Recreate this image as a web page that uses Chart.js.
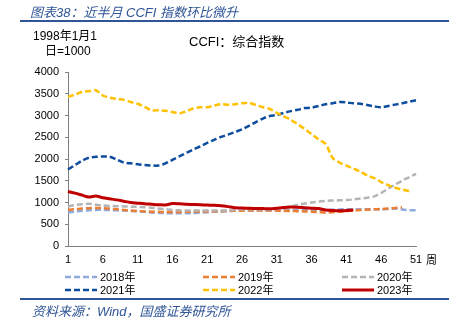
<!DOCTYPE html>
<html>
<head>
<meta charset="utf-8">
<script src="https://cdn.jsdelivr.net/npm/chart.js@4/dist/chart.umd.min.js"></script>
<style>
  body { margin: 0; background: #fff; }
  #wrap { position: relative; width: 449px; height: 330px; overflow: hidden;
    font-family: "Liberation Sans", "Noto Sans CJK SC", sans-serif; }
  #chart { position: absolute; left: 0; top: 0; }
  .txt { position: absolute; white-space: nowrap; }
  .blue { color: #2f5597; font-style: italic; font-size: 13px; }
  .rule { position: absolute; left: 20px; right: 0; height: 2px; background: #2f5597; }
</style>
</head>
<body>
<div id="wrap">
  <canvas id="chart" width="449" height="330"></canvas>
  <div class="txt blue" style="left:30px; top:2px;">图表38：近半月 CCFI 指数环比微升</div>
  <div class="rule" style="top:20px;"></div>
  <div class="txt" style="left:33px; top:26px; font-size:12px;">1998年1月1</div>
  <div class="txt" style="left:45px; top:41px; font-size:12px;">日=1000</div>
  <div class="txt" style="left:189px; top:31px; font-size:13px;">CCFI：综合指数</div>
  <div class="txt" style="left:426px; top:251px; font-size:11px;">周</div>
  <div class="rule" style="top:298px;"></div>
  <div class="txt blue" style="left:32px; top:301px;">资料来源：Wind，国盛证券研究所</div>
</div>
<script>
// CCFI weekly composite index, by year

const weeks = [];
for (let i = 1; i <= 51; i++) weeks.push(String(i));

const years = ["2018年", "2019年", "2020年", "2021年", "2022年", "2023年"];

const d2018 = [770, 790, 810, 820, 830, 830, 825, 820, 815, 805, 795, 785, 770, 760, 755, 752, 752, 753, 755, 765,
  775, 785, 790, 800, 810, 815, 815, 815, 815, 815, 818, 820, 822, 825, 828, 830, 830, 832, 835, 840,
  845, 846, 846, 846, 846, 846, 848, 860, 840, 825, 820];

const d2019 = [830, 845, 860, 870, 875, 870, 860, 845, 830, 815, 805, 795, 790, 785, 780, 778, 780, 785, 790, 792,
  792, 795, 800, 805, 810, 812, 815, 815, 815, 815, 812, 808, 805, 800, 795, 790, 780, 770, 775, 790,
  800, 815, 825, 835, 845, 850, 860, 875, 885];

const d2020 = [910, 940, 960, 970, 950, 930, 920, 915, 910, 905, 900, 890, 880, 860, 845, 830, 820, 815, 815, 815,
  815, 815, 815, 820, 830, 840, 845, 845, 840, 835, 850, 880, 910, 945, 975, 1000, 1020, 1035, 1045, 1050,
  1055, 1070, 1090, 1110, 1140, 1220, 1320, 1410, 1500, 1580, 1660];

const d2021 = [1760, 1860, 1960, 2030, 2050, 2060, 2050, 1990, 1920, 1900, 1880, 1860, 1850, 1850, 1900, 1980, 2060, 2140, 2220, 2290,
  2370, 2440, 2510, 2560, 2620, 2680, 2760, 2850, 2930, 2990, 3010, 3060, 3100, 3130, 3170, 3180, 3220, 3260, 3280, 3310,
  3300, 3280, 3270, 3240, 3210, 3190, 3220, 3250, 3280, 3320, 3350];

const d2022 = [3430, 3480, 3540, 3560, 3580, 3460, 3410, 3380, 3360, 3310, 3270, 3200, 3120, 3120, 3110, 3080, 3050, 3100, 3160, 3190,
  3190, 3230, 3260, 3250, 3260, 3280, 3290, 3240, 3190, 3150, 3060, 2980, 2900, 2800, 2690, 2570, 2450, 2350, 2030, 1920,
  1850, 1780, 1710, 1620, 1560, 1470, 1400, 1340, 1300, 1260];

const d2023 = [1253, 1215, 1170, 1125, 1150, 1110, 1085, 1060, 1030, 1000, 985, 970, 960, 950, 945, 975, 970, 960, 955, 950,
  940, 935, 925, 905, 880, 875, 865, 862, 860, 855, 870, 885, 895, 890, 880, 870, 860, 830, 815, 808,
  815, 825];

const yTicks = [0, 500, 1000, 1500, 2000, 2500, 3000, 3500, 4000];

const colors = ["#8faadc", "#ed7d31", "#b4b4b4", "#0e4c9e", "#ffc000", "#c00000"];
const series = [d2018, d2019, d2020, d2021, d2022, d2023];

const datasets = series.map((s, i) => ({
  label: years[i],
  data: s,
  borderColor: colors[i],
  backgroundColor: colors[i],
  borderWidth: i === 5 ? 3 : 2.5,
  borderDash: i === 5 ? [] : [6, 3],
  pointRadius: 0,
  tension: 0.3,
  fill: false,
  order: 5 - i,
}));

// legend in 3 columns x 2 rows, like the original
const legendPlugin = {
  id: "gridLegend",
  afterDraw(chart) {
    const ctx = chart.ctx;
    const colX = [65, 203, 342];
    const rowY = [277, 290];
    chart.data.datasets.forEach((ds, i) => {
      const x = colX[i % 3];
      const y = rowY[Math.floor(i / 3)];
      ctx.save();
      ctx.strokeStyle = ds.borderColor;
      ctx.lineWidth = ds.borderWidth;
      ctx.setLineDash(ds.borderDash);
      ctx.beginPath();
      ctx.moveTo(x, y);
      ctx.lineTo(x + 32, y);
      ctx.stroke();
      ctx.setLineDash([]);
      ctx.fillStyle = "#000";
      ctx.font = '11px "Liberation Sans", "Noto Sans CJK SC"';
      ctx.textBaseline = "middle";
      ctx.fillText(ds.label, x + 35, y + 1);
      ctx.restore();
    });
  },
};

new Chart(document.getElementById("chart").getContext("2d"), {
  type: "line",
  data: { labels: weeks, datasets: datasets },
  options: {
    responsive: false,
    animation: false,
    layout: { padding: { left: 28, right: 33, top: 72, bottom: 54 } },
    plugins: { legend: { display: false }, tooltip: { enabled: false } },
    scales: {
      x: {
        afterFit: (scale) => { scale.height = 30; },
        grid: { display: false, drawTicks: false },
        border: { display: true, color: "#7f7f7f", width: 1 },
        ticks: {
          autoSkip: false,
          maxRotation: 0,
          padding: 7,
          color: "#000",
          font: { family: "Liberation Sans", size: 11 },
          callback: (v, i) => (i % 5 === 0 ? weeks[i] : ""),
        },
      },
      y: {
        min: 0,
        max: 4000,
        afterFit: (scale) => { scale.width = 40; },
        afterBuildTicks: (scale) => { scale.ticks = yTicks.map((v) => ({ value: v })); },
        grid: { drawOnChartArea: false, tickLength: 3, color: "#7f7f7f" },
        border: { display: true, color: "#7f7f7f", width: 1 },
        ticks: {
          padding: 6,
          color: "#000",
          font: { family: "Liberation Sans", size: 11 },
          callback: (v) => String(v),
        },
      },
    },
  },
  plugins: [legendPlugin],
});
</script>
</body>
</html>
